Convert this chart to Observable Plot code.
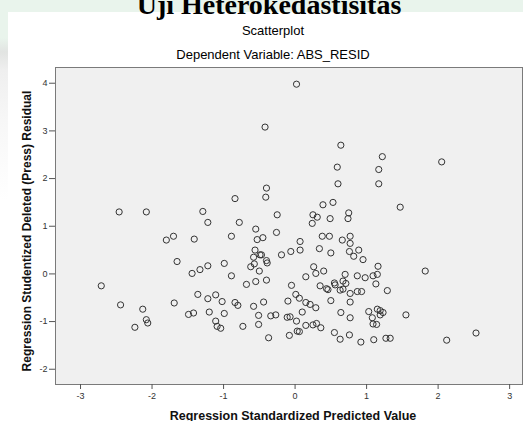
<!DOCTYPE html>
<html><head><meta charset="utf-8">
<script src="https://cdn.jsdelivr.net/npm/d3@7"></script>
<script src="https://cdn.jsdelivr.net/npm/@observablehq/plot@0.6"></script>
<style>
html,body{margin:0;padding:0;width:523px;height:421px;overflow:hidden;}
body{position:relative;background:linear-gradient(to bottom,#e9f4ec 0px,#e9f4ec 38px,#e2e4e2 52px,#efefef 70px,#f7f7f7 120px,#ffffff 200px);font-family:Arial,"Liberation Sans",sans-serif;}
#panel{position:absolute;left:8px;top:12px;width:515px;height:409px;background:#fff;}
#big{position:absolute;left:12px;width:514px;top:-11.5px;line-height:28px;text-align:center;font:bold 28px "Liberation Serif","Times New Roman",serif;color:#000;white-space:nowrap;}
.t{position:absolute;left:23px;width:500px;text-align:center;font-size:13px;line-height:13px;color:#000;white-space:nowrap;}
#t1{top:24px;}
#t2{top:48px;}
#chart{position:absolute;left:0;top:60px;}
</style></head>
<body>
<div id="panel"></div>
<div id="big">Uji Heterokedastisitas</div>
<div class="t" id="t1">Scatterplot</div>
<div class="t" id="t2">Dependent Variable: ABS_RESID</div>
<div id="chart"></div>
<script>
const xTicks = [-3, -2, -1, 0, 1, 2, 3];
const yTicks = [-2, -1, 0, 1, 2, 3, 4];
const xLabel = "Regression Standardized Predicted Value";
const yLabel = "Regression Studentized Deleted (Press) Residual";

const predicted = [
  0.02,-0.42,-0.40,-0.41,-0.84,-2.46,-2.08,-1.29,-1.22,-0.78,-0.25,-0.55,-0.26,
  0.64,1.22,0.59,1.17,2.05,0.60,1.17,1.47,0.39,0.53,0.25,0.31,0.24,0.49,0.75,0.74,
  -1.80,-1.70,-1.41,-0.89,-0.53,-0.45,0.07,0.07,-0.06,-0.19,-0.56,-0.49,-0.47,-0.58,
  -0.57,-0.62,-0.40,-0.39,-0.50,-1.65,-1.44,-1.33,-1.22,-0.99,-0.89,-0.68,-0.55,-0.40,
  -0.05,-2.71,-2.44,-2.13,-2.08,-2.06,-2.24,-1.69,-1.36,-1.22,-1.11,-1.02,-0.84,-0.80,
  -0.58,-0.44,-0.10,0.01,0.06,-1.49,-1.42,-1.20,-0.99,-1.11,-1.09,-1.04,-0.73,-0.51,
  -0.51,-0.34,-0.27,-0.37,-0.11,-0.07,0.02,-0.08,0.03,0.06,0.10,0.38,0.48,0.77,0.66,
  0.77,0.34,0.50,0.76,0.89,0.82,0.95,0.26,0.29,0.40,0.15,0.70,0.67,0.71,0.55,0.56,
  0.35,0.44,0.46,0.63,0.67,0.87,0.98,1.09,1.15,1.16,1.13,0.77,0.87,0.93,1.29,1.82,
  0.15,0.21,0.29,0.50,0.77,0.64,0.77,1.03,1.15,1.19,1.23,1.19,1.08,1.09,1.14,1.55,
  0.15,0.25,0.30,0.36,0.55,0.63,0.76,0.92,1.10,1.27,1.33,2.12,2.53
];
const residual = [
  3.98,3.08,1.80,1.61,1.58,1.30,1.30,1.31,1.08,1.08,1.24,0.94,0.87,
  2.70,2.46,2.24,2.19,2.35,1.89,1.89,1.40,1.45,1.50,1.24,1.19,1.06,1.16,1.28,1.16,
  0.71,0.79,0.73,0.79,0.72,0.76,0.68,0.50,0.47,0.40,0.50,0.40,0.40,0.35,
  0.21,0.15,0.28,0.23,0.06,0.26,0.01,0.09,0.17,0.22,-0.04,-0.22,-0.16,-0.13,
  -0.24,-0.25,-0.65,-0.74,-0.96,-1.03,-1.12,-0.61,-0.43,-0.52,-0.44,-0.58,-0.60,-0.66,
  -0.68,-0.59,-0.57,-0.43,-0.51,-0.85,-0.82,-0.80,-0.83,-0.99,-1.10,-1.14,-1.10,-0.87,
  -1.06,-0.88,-0.86,-1.34,-0.91,-0.90,-0.99,-1.29,-1.20,-1.21,-0.80,0.79,0.79,0.79,0.71,
  0.64,0.53,0.44,0.47,0.50,0.37,0.30,0.15,0.01,0.06,-0.06,-0.01,-0.15,-0.20,-0.19,-0.23,
  -0.25,-0.31,-0.33,-0.34,-0.32,-0.04,-0.08,-0.04,-0.01,0.16,-0.21,-0.41,-0.37,-0.37,-0.35,0.06,
  -0.60,-0.64,-0.71,-0.56,-0.59,-0.81,-0.92,-0.79,-0.74,-0.77,-0.81,-0.86,-0.92,-1.05,-1.06,-0.86,
  -1.08,-1.07,-1.04,-1.13,-1.23,-1.37,-1.28,-1.43,-1.38,-1.35,-1.35,-1.39,-1.24
];

const data = predicted.map((x, i) => ({x, y: residual[i]}));
const font = "Arial, 'Liberation Sans', sans-serif";

const chart = Plot.plot({
  width: 523,
  height: 361,
  marginLeft: 55,
  marginRight: 1,
  marginTop: 7,
  marginBottom: 37,
  style: {background: "transparent", fontFamily: font, fontSize: "9px", color: "#333", overflow: "visible"},
  x: {domain: [-3.35, 3.18]},
  y: {domain: [-2.32, 4.33]},
  marks: [
    Plot.frame({fill: "#f0f0f0", stroke: null}),
    Plot.dot(data, {x: "x", y: "y", r: 3.1, stroke: "#333", strokeWidth: 1, fill: "none"}),
    Plot.frame({stroke: "#7a7a7a"}),
    Plot.axisX(xTicks, {tickSize: 5, tickPadding: 3, stroke: "#555", fill: "#333", label: null, tickFormat: d => String(d)}),
    Plot.axisY(yTicks, {tickSize: 6, tickPadding: 2, stroke: "#555", fill: "#333", label: null, tickFormat: d => String(d)}),
    Plot.text([xLabel], {text: d => d, frameAnchor: "bottom", lineAnchor: "middle", dy: 31, dx: 4, fontSize: 12.5, fontWeight: "bold", fill: "#111", fontFamily: font}),
    Plot.text([yLabel], {text: d => d, frameAnchor: "left", textAnchor: "middle", lineAnchor: "middle", rotate: -90, dx: -28, dy: 5, fontSize: 12, fontWeight: "bold", fill: "#111", fontFamily: font})
  ]
});
document.getElementById("chart").appendChild(chart);
</script>
</body></html>
